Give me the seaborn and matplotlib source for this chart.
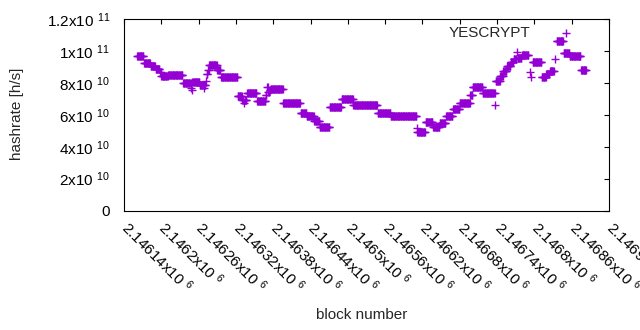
import numpy as np
import pandas as pd
import matplotlib
matplotlib.use("Agg")
import matplotlib.pyplot as plt
from matplotlib.ticker import FixedLocator, FuncFormatter
from matplotlib.transforms import ScaledTranslation
import seaborn as sns


# Runs of consecutive blocks that share one hashrate value
# (first block, last block, hashrate in units of 1e10 h/s)
RUN_FIRST = [
    2146161, 2146172, 2146183, 2146191, 2146198, 2146200, 2146211, 2146235,
    2146248, 2146249, 2146250, 2146262, 2146268, 2146269, 2146272, 2146273,
    2146275, 2146277, 2146290, 2146296, 2146323, 2146330, 2146333, 2146334,
    2146338, 2146354, 2146368, 2146370, 2146372, 2146374, 2146376, 2146396,
    2146424, 2146434, 2146446, 2146455, 2146471, 2146490, 2146509, 2146548,
    2146569, 2146611, 2146612, 2146625, 2146637, 2146648, 2146658, 2146669,
    2146680, 2146697, 2146701, 2146717, 2146737, 2146738, 2146745, 2146750,
    2146756, 2146762, 2146767, 2146772, 2146773, 2146780, 2146793, 2146794,
    2146797, 2146812, 2146819, 2146825, 2146833, 2146836, 2146847, 2146857,
    2146875,
]
RUN_LAST = [
    2146171, 2146182, 2146190, 2146197, 2146199, 2146210, 2146234, 2146247,
    2146248, 2146249, 2146261, 2146267, 2146268, 2146271, 2146272, 2146274,
    2146276, 2146289, 2146295, 2146322, 2146329, 2146332, 2146333, 2146337,
    2146353, 2146367, 2146369, 2146371, 2146373, 2146375, 2146395, 2146423,
    2146433, 2146445, 2146454, 2146470, 2146489, 2146508, 2146547, 2146568,
    2146610, 2146611, 2146624, 2146636, 2146647, 2146657, 2146668, 2146679,
    2146696, 2146700, 2146716, 2146736, 2146737, 2146744, 2146749, 2146755,
    2146761, 2146766, 2146771, 2146772, 2146779, 2146790, 2146793, 2146794,
    2146811, 2146818, 2146824, 2146831, 2146833, 2146846, 2146856, 2146874,
    2146883,
]
RUN_RATE = [
    9.68, 9.24, 9.04, 8.85, 8.69, 8.42, 8.49, 8.00,
    7.67, 7.56, 8.04, 7.88, 7.67, 7.88, 8.13, 8.57,
    8.82, 9.13, 8.82, 8.36, 7.16, 6.94, 6.75, 6.94,
    7.36, 6.89, 7.25, 7.75, 7.44, 7.56, 7.61, 6.72,
    6.14, 5.90, 5.62, 5.26, 6.48, 6.98, 6.60, 6.10,
    5.91, 5.18, 4.91, 5.57, 5.26, 5.51, 5.93, 6.39,
    6.73, 7.25, 7.73, 7.38, 6.59, 8.13, 8.44, 8.76,
    9.07, 9.32, 9.51, 9.95, 9.57, 9.76, 8.69, 8.36,
    9.30, 8.41, 8.57, 8.76, 9.49, 10.64, 9.87, 9.68,
    8.80,
]

X_TICKS = list(range(2146140, 2146921, 60))
Y_TICKS = [0, 2e10, 4e10, 6e10, 8e10, 1e11, 1.2e11]
COLOR = "#9400D3"
FS = 11

# one row per block
rows = []
for first, last, rate in zip(RUN_FIRST, RUN_LAST, RUN_RATE):
    for blk in range(first, last + 1):
        rows.append((blk, rate * 1e10))
DF = pd.DataFrame(rows, columns=["block", "hashrate"])


def sci_label(v, pos=None):
    # gnuplot style "2x10^10"
    if v == 0:
        return "0"
    exp = int(np.floor(np.log10(abs(v)) + 1e-9))
    mant = v / 10 ** exp
    return f"{mant:g}x10 $^{{{exp}}}$"


sns.set_style("white")
plt.rcParams["font.family"] = ["Liberation Sans", "DejaVu Sans"]
plt.rcParams["mathtext.fontset"] = "custom"
plt.rcParams["mathtext.rm"] = "Liberation Sans"
plt.rcParams["mathtext.default"] = "regular"

fig = plt.figure(figsize=(6.4, 3.3), dpi=100)
ax = fig.add_axes([124 / 640, 1 - 210.5 / 330, 485 / 640, 191.2 / 330])

sns.scatterplot(
    data=DF,
    x="block",
    y="hashrate",
    marker="+",
    s=26,
    linewidth=1.0,
    color=COLOR,
    label="YESCRYPT",
    ax=ax,
    legend=False,
)

ax.set_xlim(X_TICKS[0], X_TICKS[-1])
ax.set_ylim(0, 1.2e11)
ax.xaxis.set_major_locator(FixedLocator(X_TICKS))
ax.yaxis.set_major_locator(FixedLocator(Y_TICKS))
ax.xaxis.set_major_formatter(FuncFormatter(sci_label))
ax.yaxis.set_major_formatter(FuncFormatter(sci_label))

ax.tick_params(axis="both", which="major", direction="in", length=3.5,
               width=0.8, color="black", labelsize=FS, labelcolor="black",
               top=True, right=True)
ax.tick_params(axis="y", pad=10)
ax.tick_params(axis="x", pad=5)
for spine in ax.spines.values():
    spine.set_visible(True)
    spine.set_color("black")
    spine.set_linewidth(0.8)

shift = ScaledTranslation(7 / 100, 0, fig.dpi_scale_trans)
for lbl in ax.get_xticklabels():
    lbl.set_rotation(-45)
    lbl.set_ha("left")
    lbl.set_va("top")
    lbl.set_rotation_mode("anchor")
    lbl.set_transform(lbl.get_transform() + shift)

ax.set_xlabel("")
ax.set_ylabel("")
fig.text(17.5 / 640, 1 - 114 / 330, "hashrate [h/s]", rotation=90,
         ha="center", va="center", fontsize=FS)
fig.text(362 / 640, 1 - 315 / 330, "block number",
         ha="center", va="center", fontsize=FS)

ax.legend(
    handles=ax.collections[:1],
    labels=["YESCRYPT"],
    loc="upper right",
    bbox_to_anchor=(0.942, 0.967),
    frameon=False,
    markerfirst=False,
    handletextpad=1.3,
    borderaxespad=0,
    borderpad=0,
    fontsize=FS,
)

fig.savefig("out.png", dpi=100)
plt.close(fig)
